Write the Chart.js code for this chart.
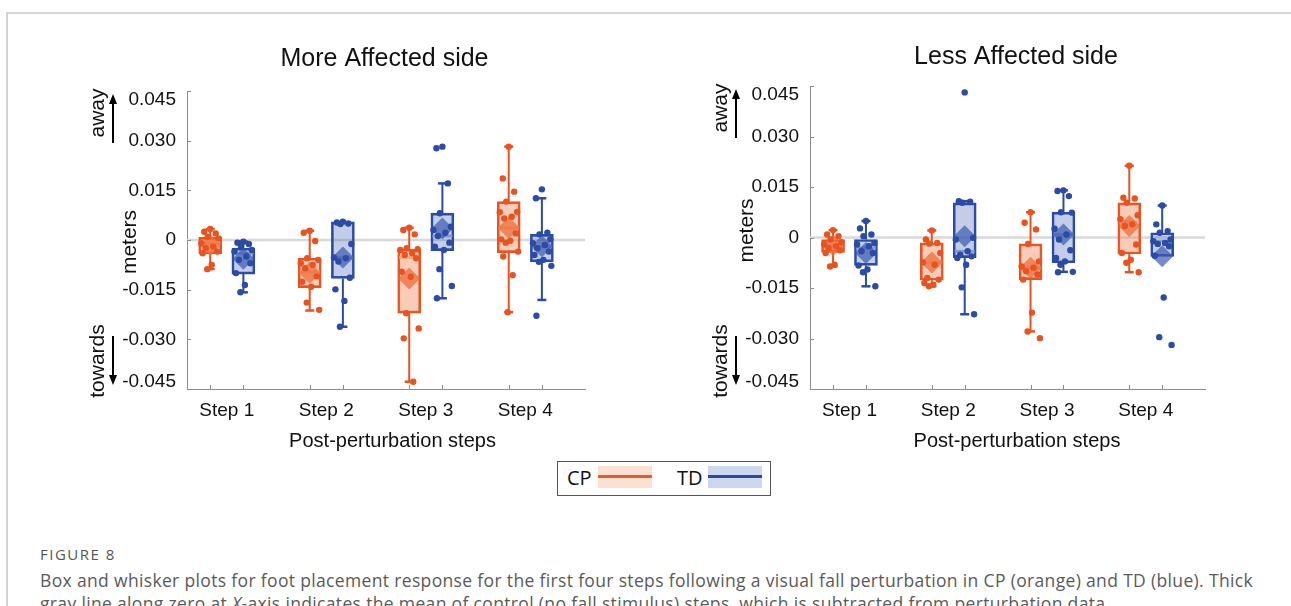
<!DOCTYPE html>
<html>
<head>
<meta charset="utf-8">
<script src="https://cdn.jsdelivr.net/npm/chart.js@4.4.0/dist/chart.umd.min.js"></script>
<style>
  body { margin: 0; background: #fff; width: 1291px; height: 606px; position: relative; overflow: hidden; }
  .frame { position: absolute; left: 6px; top: 12px; right: 0; bottom: 0; border-left: 2px solid #d4d4d4; border-top: 2px solid #d4d4d4; }
  canvas { position: absolute; top: 0; }
  #leftChart { left: 0; }
  #rightChart { left: 645px; }
  .legend { position: absolute; left: 557px; top: 461px; width: 212px; height: 33px; border: 1px solid #555; font-family: "Open Sans", sans-serif; font-size: 20px; color: #111; }
  .legend span { position: absolute; top: 2px; }
  .legend .patch { position: absolute; top: 4px; width: 54px; height: 22px; }
  .legend .patch i { position: absolute; left: 0; right: 0; top: 9px; height: 3px; }
  .fig { position: absolute; left: 40px; top: 544px; font-family: "Open Sans", sans-serif; font-size: 15px; color: #555; letter-spacing: 1.5px; }
  .cap { position: absolute; left: 40px; font-family: "Open Sans", sans-serif; font-size: 17.5px; color: #5a5a5a; white-space: nowrap; }
</style>
</head>
<body>
<div class="frame"></div>
<canvas id="leftChart" width="645" height="460"></canvas>
<canvas id="rightChart" width="646" height="460"></canvas>

<div class="legend">
  <span style="left:9px">CP</span>
  <div class="patch" style="left:40px; background:#fbe1d4"><i style="background:#e65a2c"></i></div>
  <span style="left:119px">TD</span>
  <div class="patch" style="left:150px; background:#cdd8ef"><i style="background:#2b49a3"></i></div>
</div>

<div class="fig">FIGURE 8</div>
<div class="cap" id="cap1" style="top:568px">Box and whisker plots for foot placement response for the first four steps following a visual fall perturbation in CP (orange) and TD (blue). Thick</div>
<div class="cap" id="cap2" style="top:591px">gray line along zero at <i>X</i>-axis indicates the mean of control (no fall stimulus) steps, which is subtracted from perturbation data.</div>

<script>
const steps = ["Step 1", "Step 2", "Step 3", "Step 4"];
const stepPos = [1, 2, 3, 4];
const yTickValues = [-0.045, -0.030, -0.015, 0, 0.015, 0.030, 0.045];
const yTickLabels = ["-0.045", "-0.030", "-0.015", "0", "0.015", "0.030", "0.045"];

// More Affected side - CP
const moreCpLow = [-0.0088, -0.0213, -0.0428, -0.0218];
const moreCpQ1 = [-0.0042, -0.0144, -0.0221, -0.0038];
const moreCpMedian = [-0.0010, -0.0096, -0.0053, 0.0037];
const moreCpQ3 = [0.0008, -0.0055, -0.0028, 0.0116];
const moreCpHigh = [0.0033, 0.0028, 0.0037, 0.0282];
const moreCpMean = [-0.0015, -0.0099, -0.0116, 0.0037];
const moreCpPoints = [
    [0.0033, 0.0025, 0.0020, 0.0010, 0.0005, -0.0010, -0.0020, -0.0025, -0.0035, -0.0040, -0.0075, -0.0088],
    [0.0028, 0.0022, -0.0003, -0.0055, -0.0060, -0.0070, -0.0075, -0.0085, -0.0110, -0.0126, -0.0141, -0.0189, -0.0211],
    [0.0037, 0.0030, 0.0017, -0.0025, -0.0028, -0.0030, -0.0040, -0.0045, -0.0055, -0.0096, -0.0111, -0.0221, -0.0267, -0.0297, -0.0428],
    [0.0282, 0.0186, 0.0146, 0.0116, 0.0085, 0.0084, 0.0070, 0.0065, 0.0020, 0.0002, -0.0002, -0.0008, -0.0035, -0.0050, -0.0106, -0.0218]
];

// More Affected side - TD
const moreTdLow = [-0.0158, -0.0262, -0.0176, -0.0181];
const moreTdQ1 = [-0.0103, -0.0116, -0.0032, -0.0066];
const moreTdMedian = [-0.0040, -0.0054, 0.0012, -0.0020];
const moreTdQ3 = [-0.0025, 0.0055, 0.0081, 0.0017];
const moreTdHigh = [-0.0005, 0.0055, 0.0171, 0.0126];
const moreTdMean = [-0.0057, -0.0053, 0.0035, -0.0019];
const moreTdPoints = [
    [-0.0005, -0.0008, -0.0012, -0.0018, -0.0030, -0.0035, -0.0050, -0.0060, -0.0070, -0.0100, -0.0136, -0.0158],
    [0.0055, 0.0053, 0.0050, 0.0048, -0.0012, -0.0053, -0.0055, -0.0065, -0.0114, -0.0149, -0.0184, -0.0262],
    [0.0282, 0.0277, 0.0171, 0.0081, 0.0040, 0.0030, 0.0022, 0.0012, -0.0008, -0.0020, -0.0030, -0.0088, -0.0139, -0.0176],
    [0.0153, 0.0126, 0.0022, 0.0017, 0.0002, -0.0010, -0.0015, -0.0025, -0.0035, -0.0045, -0.0060, -0.0066, -0.0078, -0.0229]
];

// Less Affected side - CP
const lessCpLow = [-0.0086, -0.0145, -0.0279, -0.0103];
const lessCpQ1 = [-0.0044, -0.0127, -0.0125, -0.0049];
const lessCpMedian = [-0.0023, -0.0074, -0.0090, 0.0046];
const lessCpQ3 = [-0.0006, -0.0016, -0.0019, 0.0103];
const lessCpHigh = [0.0022, 0.0021, 0.0075, 0.0213];
const lessCpMean = [-0.0023, -0.0074, -0.0090, 0.0034];
const lessCpPoints = [
    [0.0022, 0.0009, 0.0004, -0.0006, -0.0014, -0.0021, -0.0026, -0.0031, -0.0038, -0.0046, -0.0081, -0.0086],
    [0.0021, -0.0006, -0.0016, -0.0018, -0.0046, -0.0074, -0.0081, -0.0120, -0.0125, -0.0135, -0.0140, -0.0145],
    [0.0075, 0.0044, 0.0024, -0.0019, -0.0071, -0.0086, -0.0090, -0.0100, -0.0110, -0.0125, -0.0223, -0.0279, -0.0299],
    [0.0213, 0.0118, 0.0116, 0.0103, 0.0066, 0.0054, 0.0039, 0.0034, -0.0021, -0.0046, -0.0066, -0.0075, -0.0103]
];

// Less Affected side - TD
const lessTdLow = [-0.0145, -0.0228, -0.0102, -0.0056];
const lessTdQ1 = [-0.0083, -0.0060, -0.0075, -0.0056];
const lessTdMedian = [-0.0031, -0.0041, 0.0009, -0.0011];
const lessTdQ3 = [-0.0006, 0.0103, 0.0075, 0.0014];
const lessTdHigh = [0.0049, 0.0108, 0.0140, 0.0095];
const lessTdMean = [-0.0046, 0.0004, 0.0009, -0.0056];
const lessTdPoints = [
    [0.0049, 0.0027, 0.0009, 0.0004, -0.0016, -0.0021, -0.0026, -0.0041, -0.0046, -0.0083, -0.0095, -0.0103, -0.0145],
    [0.0431, 0.0108, 0.0106, 0.0103, -0.0001, -0.0006, -0.0041, -0.0051, -0.0056, -0.0061, -0.0081, -0.0148, -0.0228],
    [0.0140, 0.0138, 0.0123, 0.0075, 0.0074, 0.0026, 0.0009, -0.0006, -0.0038, -0.0061, -0.0071, -0.0081, -0.0102, -0.0103],
    [0.0095, 0.0039, 0.0019, 0.0014, -0.0006, -0.0011, -0.0016, -0.0019, -0.0026, -0.0054, -0.0178, -0.0296, -0.0319]
];

const X_MIN = 0.6;
const X_MAX = 4.6;
const SHIFT = 1 / 6;
const JITTER = [0, -0.6, 0.55, -0.25, 0.85, -0.9, 0.3, -0.45, 0.7, -0.75, 0.15, -0.3, 0.95, -0.55, 0.4, -0.1];
const FONT = '"Liberation Sans", Arial, sans-serif';

const CP_STYLE = {
    color: "#e8531f",
    fill: "rgba(240,120,70,0.38)",
    median: "rgba(247,165,130,0.95)",
    mean: "rgba(236,110,60,0.75)"
};
const TD_STYLE = {
    color: "#2a4ba6",
    fill: "rgba(70,100,185,0.32)",
    median: "rgba(130,152,212,0.95)",
    mean: "rgba(60,90,175,0.7)"
};

function groupDatasets(stats, style, shift) {
    const xs = stepPos.map(s => s + shift);

    const whiskers = [];
    xs.forEach((x, i) => {
        whiskers.push({x, y: stats.low[i]}, {x, y: stats.q1[i]}, {x, y: null});
        whiskers.push({x, y: stats.q3[i]}, {x, y: stats.high[i]}, {x, y: null});
    });

    const caps = [];
    xs.forEach((x, i) => {
        if (stats.low[i] < stats.q1[i]) caps.push({x, y: stats.low[i]});
        if (stats.high[i] > stats.q3[i]) caps.push({x, y: stats.high[i]});
    });

    const dots = [];
    xs.forEach((x, i) => {
        stats.points[i].forEach((v, j) => {
            dots.push({x: x + JITTER[j % JITTER.length] * 0.1, y: v});
        });
    });

    return [
        {type: "line", data: whiskers, borderColor: style.color, borderWidth: 2, pointRadius: 0, spanGaps: false, order: 15},
        {type: "bar", data: xs.map((x, i) => ({x, y: [stats.q1[i], stats.q3[i]]})),
         backgroundColor: style.fill, borderColor: style.color, borderWidth: 2, borderSkipped: false,
         barThickness: 23, grouped: false, order: 14},
        {type: "scatter", data: caps, pointStyle: "line", pointRadius: 4.5, borderColor: style.color, borderWidth: 2.5, order: 13},
        {type: "scatter", data: xs.map((x, i) => ({x, y: stats.median[i]})), pointStyle: "line",
         pointRadius: 10, borderColor: style.median, borderWidth: 3, order: 12},
        {type: "scatter", data: xs.map((x, i) => ({x, y: stats.mean[i]})), pointStyle: "rectRot",
         pointRadius: 11, backgroundColor: style.mean, borderWidth: 0, order: 11},
        {type: "scatter", data: dots, pointRadius: 3.2, backgroundColor: style.color, borderWidth: 0, order: 1}
    ];
}

function rotatedText(ctx, text, x, y) {
    ctx.save();
    ctx.translate(x, y);
    ctx.rotate(-Math.PI / 2);
    ctx.fillText(text, 0, 0);
    ctx.restore();
}

function arrow(ctx, x, yFrom, yTo) {
    const dir = yTo > yFrom ? 1 : -1;
    ctx.beginPath();
    ctx.moveTo(x, yFrom);
    ctx.lineTo(x, yTo - dir * 8);
    ctx.stroke();
    ctx.beginPath();
    ctx.moveTo(x, yTo);
    ctx.lineTo(x - 4, yTo - dir * 10);
    ctx.lineTo(x + 4, yTo - dir * 10);
    ctx.closePath();
    ctx.fill();
}

const decorPlugin = {
    id: "sideDecor",
    afterDraw(chart, args, o) {
        const {ctx, chartArea: a} = chart;
        const xs = chart.scales.x;
        const ys = chart.scales.y;
        ctx.save();

        // inward tick marks
        ctx.strokeStyle = "#8c8c8c";
        ctx.lineWidth = 1;
        ctx.beginPath();
        yTickValues.forEach(v => {
            const py = Math.round(ys.getPixelForValue(v)) + 0.5;
            ctx.moveTo(a.left, py);
            ctx.lineTo(a.left + 4, py);
        });
        stepPos.forEach(s => {
            [-SHIFT, SHIFT].forEach(d => {
                const px = Math.round(xs.getPixelForValue(s + d)) + 0.5;
                ctx.moveTo(px, a.bottom);
                ctx.lineTo(px, a.bottom - 4);
            });
        });
        ctx.stroke();

        // y tick labels
        ctx.fillStyle = "#111";
        ctx.font = "19px " + FONT;
        ctx.textAlign = "right";
        ctx.textBaseline = "middle";
        yTickValues.forEach((v, i) => {
            let py = ys.getPixelForValue(v);
            if (i === 0) py -= 7;
            if (i === yTickValues.length - 1) py += 9;
            ctx.fillText(yTickLabels[i], a.left - 11, py);
        });

        // titles
        ctx.textAlign = "center";
        ctx.font = "25px " + FONT;
        ctx.fillText(o.title, (a.left + a.right) / 2 + o.titleDx, o.titleY);
        ctx.font = "20px " + FONT;
        ctx.fillText("Post-perturbation steps", (a.left + a.right) / 2 + o.xTitleDx, 441);

        // y label + direction notes
        ctx.font = "21px " + FONT;
        rotatedText(ctx, "meters", a.left - o.metersDx, ys.getPixelForValue(0) + o.metersDy);
        rotatedText(ctx, "away", a.left - 89, a.top + 22);
        rotatedText(ctx, "towards", a.left - 89, a.bottom - 28);

        ctx.strokeStyle = "#000";
        ctx.fillStyle = "#000";
        ctx.lineWidth = 2;
        arrow(ctx, a.left - 74, a.top + 52, a.top + 3);
        arrow(ctx, a.left - 74, a.bottom - 53, a.bottom - 4);

        ctx.restore();
    }
};

function makeChart(canvasId, cp, td, layout, decor) {
    const datasets = [
        {type: "line", data: [{x: X_MIN, y: 0}, {x: X_MAX, y: 0}], borderColor: "#d9d9d9",
         borderWidth: 2.5, pointRadius: 0, order: 20}
    ];
    datasets.push(...groupDatasets(cp, CP_STYLE, -SHIFT));
    datasets.push(...groupDatasets(td, TD_STYLE, SHIFT));

    return new Chart(document.getElementById(canvasId), {
        type: "bar",
        data: {datasets},
        options: {
            responsive: false,
            animation: false,
            events: [],
            layout: {padding: layout.padding},
            plugins: {
                legend: {display: false},
                tooltip: {enabled: false},
                sideDecor: decor
            },
            scales: {
                x: {
                    type: "linear",
                    min: X_MIN,
                    max: X_MAX,
                    offset: false,
                    grid: {display: false, drawTicks: false, offset: false},
                    border: {display: true, color: "#8c8c8c", width: 1},
                    afterBuildTicks: s => { s.ticks = stepPos.map(v => ({value: v})); },
                    afterFit: s => { s.height = 71; },
                    ticks: {
                        padding: 10,
                        color: "#111",
                        font: {family: FONT, size: 19},
                        callback: v => steps[Math.round(v) - 1]
                    }
                },
                y: {
                    type: "linear",
                    min: -0.045,
                    max: 0.045,
                    grid: {display: false, drawTicks: false},
                    border: {display: true, color: "#8c8c8c", width: 1},
                    ticks: {display: false},
                    afterFit: s => { s.width = layout.yWidth; }
                }
            }
        },
        plugins: [decorPlugin]
    });
}

function stats(low, q1, median, q3, high, mean, points) {
    return {low, q1, median, q3, high, mean, points};
}

makeChart("leftChart",
    stats(moreCpLow, moreCpQ1, moreCpMedian, moreCpQ3, moreCpHigh, moreCpMean, moreCpPoints),
    stats(moreTdLow, moreTdQ1, moreTdMedian, moreTdQ3, moreTdHigh, moreTdMean, moreTdPoints),
    {padding: {left: 0, top: 91, right: 60, bottom: 0}, yWidth: 187},
    {title: "More Affected side", titleDx: -1.5, titleY: 59, xTitleDx: 6.5, metersDx: 57, metersDy: 2});

makeChart("rightChart",
    stats(lessCpLow, lessCpQ1, lessCpMedian, lessCpQ3, lessCpHigh, lessCpMean, lessCpPoints),
    stats(lessTdLow, lessTdQ1, lessTdMedian, lessTdQ3, lessTdHigh, lessTdMean, lessTdPoints),
    {padding: {left: 0, top: 86, right: 86, bottom: 0}, yWidth: 165},
    {title: "Less Affected side", titleDx: 8.5, titleY: 57, xTitleDx: 9.5, metersDx: 63, metersDy: -7});

// stretch the caption lines to the width they have in the figure
const cap1 = document.getElementById("cap1");
const cap2 = document.getElementById("cap2");
const spacing = (1213 - cap1.getBoundingClientRect().width) / cap1.textContent.length;
cap1.style.letterSpacing = spacing + "px";
cap2.style.letterSpacing = spacing + "px";
</script>
</body>
</html>
